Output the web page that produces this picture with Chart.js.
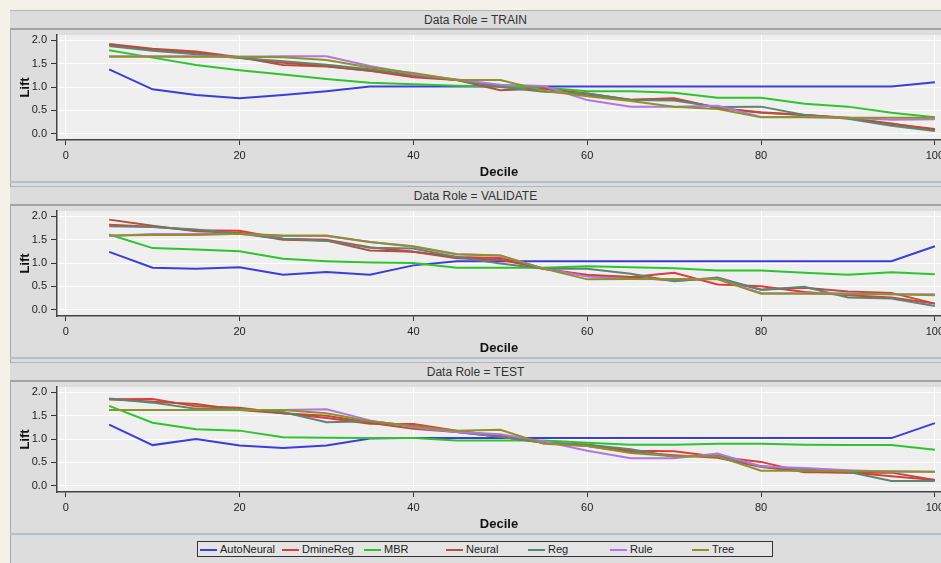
<!DOCTYPE html>
<html>
<head>
<meta charset="utf-8">
<script src="https://cdn.jsdelivr.net/npm/chart.js@4.4.1/dist/chart.umd.min.js"></script>
<style>
  html, body { margin: 0; padding: 0; }
  body { width: 941px; height: 563px; background: #f4f1e8; position: relative; overflow: hidden;
         font-family: "Liberation Sans", Arial, sans-serif; }
  #frame { position: absolute; left: 10px; top: 10px; width: 931px; height: 553px;
           background: #dddddd; border-left: 1px solid #9eacbc; border-top: 1px solid #9eacbc; box-sizing: border-box; }
  .head { position: absolute; left: 10px; width: 931px; height: 20px; box-sizing: border-box;
          border-top: 1px solid #b4b4b4; border-bottom: 2px solid #a4a4a4; background: #dcdcdc;
          font-size: 12px; color: #333; text-align: center; line-height: 18px; }
  .sep { position: absolute; left: 10px; width: 931px; height: 0; border-top: 2px solid #b6c0cc; }
  canvas { position: absolute; left: 10px; }
  #legend { position: absolute; left: 197px; top: 541px; width: 576px; height: 16px; box-sizing: border-box;
            border: 1px solid #333; background: #e4e4e4; font-size: 11px; color: #222; white-space: nowrap; }
  #legend .item { display: inline-block; width: 82px; line-height: 14px; vertical-align: top; }
  #legend .swatch { display: inline-block; width: 17px; height: 2px; margin: 0 3px 0 2px; vertical-align: middle; }
</style>
</head>
<body>
<div id="frame"></div>
<div id="panels"></div>
<div id="legend"></div>
<script>
const roles = ["TRAIN", "VALIDATE", "TEST"];
const models = ["AutoNeural", "DmineReg", "MBR", "Neural", "Reg", "Rule", "Tree"];
const modelColors = ["#3d3ddb", "#e23a3a", "#2ec42e", "#b4503c", "#5e8472", "#b275e2", "#8f9129"];
const deciles = [5, 10, 15, 20, 25, 30, 35, 40, 45, 50, 55, 60, 65, 70, 75, 80, 85, 90, 95, 100];
const xTicks = [0, 20, 40, 60, 80, 100];
const yTicks = [0, 0.5, 1.0, 1.5, 2.0];

// lift per model, rows in the order of `models`
const trainLift = [
  [1.38, 0.95, 0.83, 0.76, 0.83, 0.91, 1.01, 1.01, 1.01, 1.01, 1.01, 1.01, 1.01, 1.01, 1.01, 1.01, 1.01, 1.01, 1.01, 1.10],
  [1.90, 1.80, 1.73, 1.63, 1.52, 1.45, 1.35, 1.21, 1.15, 1.03, 0.97, 0.86, 0.73, 0.76, 0.55, 0.46, 0.40, 0.34, 0.21, 0.10],
  [1.79, 1.63, 1.47, 1.36, 1.27, 1.17, 1.09, 1.06, 1.03, 1.01, 0.99, 0.91, 0.91, 0.88, 0.77, 0.77, 0.64, 0.58, 0.45, 0.35],
  [1.92, 1.82, 1.76, 1.64, 1.47, 1.44, 1.35, 1.24, 1.15, 0.93, 0.97, 0.82, 0.72, 0.75, 0.55, 0.45, 0.40, 0.33, 0.22, 0.08],
  [1.88, 1.78, 1.70, 1.62, 1.55, 1.48, 1.38, 1.26, 1.15, 1.00, 0.90, 0.86, 0.72, 0.71, 0.57, 0.58, 0.40, 0.32, 0.17, 0.06],
  [1.66, 1.66, 1.66, 1.65, 1.66, 1.66, 1.45, 1.28, 1.16, 1.05, 1.02, 0.72, 0.58, 0.58, 0.60, 0.36, 0.36, 0.34, 0.30, 0.31],
  [1.65, 1.65, 1.65, 1.65, 1.64, 1.58, 1.42, 1.30, 1.15, 1.15, 0.92, 0.80, 0.70, 0.58, 0.53, 0.35, 0.35, 0.34, 0.34, 0.34]
];
const validateLift = [
  [1.24, 0.90, 0.88, 0.91, 0.75, 0.81, 0.75, 0.95, 1.04, 1.04, 1.04, 1.04, 1.04, 1.04, 1.04, 1.04, 1.04, 1.04, 1.04, 1.36],
  [1.82, 1.78, 1.70, 1.69, 1.52, 1.50, 1.34, 1.24, 1.13, 1.11, 0.87, 0.75, 0.70, 0.79, 0.54, 0.50, 0.38, 0.31, 0.26, 0.13],
  [1.61, 1.32, 1.29, 1.25, 1.09, 1.04, 1.01, 1.00, 0.90, 0.90, 0.90, 0.93, 0.91, 0.89, 0.84, 0.84, 0.79, 0.75, 0.80, 0.76],
  [1.93, 1.80, 1.68, 1.65, 1.50, 1.48, 1.27, 1.24, 1.10, 1.07, 0.88, 0.72, 0.70, 0.62, 0.67, 0.43, 0.47, 0.39, 0.36, 0.13],
  [1.79, 1.77, 1.72, 1.63, 1.52, 1.48, 1.33, 1.31, 1.13, 0.99, 0.88, 0.88, 0.77, 0.61, 0.69, 0.43, 0.49, 0.26, 0.24, 0.08],
  [1.58, 1.62, 1.62, 1.62, 1.58, 1.58, 1.45, 1.35, 1.19, 1.16, 0.88, 0.71, 0.66, 0.65, 0.66, 0.36, 0.35, 0.35, 0.33, 0.33],
  [1.59, 1.60, 1.60, 1.63, 1.59, 1.59, 1.45, 1.36, 1.19, 1.16, 0.88, 0.65, 0.66, 0.66, 0.65, 0.34, 0.34, 0.33, 0.33, 0.31]
];
const testLift = [
  [1.31, 0.87, 1.00, 0.86, 0.81, 0.86, 1.01, 1.02, 1.02, 1.02, 1.02, 1.02, 1.02, 1.02, 1.02, 1.02, 1.02, 1.02, 1.02, 1.34],
  [1.85, 1.86, 1.70, 1.67, 1.55, 1.45, 1.33, 1.32, 1.18, 1.07, 0.92, 0.88, 0.75, 0.74, 0.62, 0.51, 0.29, 0.29, 0.20, 0.12],
  [1.71, 1.35, 1.21, 1.18, 1.04, 1.03, 1.02, 1.02, 0.97, 0.97, 0.97, 0.92, 0.88, 0.88, 0.90, 0.90, 0.88, 0.87, 0.87, 0.77],
  [1.85, 1.80, 1.75, 1.62, 1.55, 1.50, 1.35, 1.22, 1.15, 1.05, 0.92, 0.85, 0.72, 0.65, 0.60, 0.40, 0.30, 0.28, 0.28, 0.12],
  [1.87, 1.78, 1.65, 1.65, 1.58, 1.36, 1.38, 1.28, 1.15, 1.05, 0.92, 0.88, 0.78, 0.62, 0.65, 0.42, 0.35, 0.30, 0.10, 0.10],
  [1.62, 1.62, 1.62, 1.62, 1.62, 1.64, 1.40, 1.25, 1.15, 1.10, 0.95, 0.75, 0.59, 0.59, 0.69, 0.41, 0.38, 0.33, 0.30, 0.30],
  [1.62, 1.62, 1.62, 1.62, 1.62, 1.55, 1.38, 1.28, 1.18, 1.20, 0.90, 0.85, 0.70, 0.63, 0.63, 0.32, 0.32, 0.31, 0.31, 0.30]
];
const liftByRole = [trainLift, validateLift, testLift];

// plot background behind the lines
const plotBg = {
  id: "plotBg",
  beforeDraw(chart) {
    const a = chart.chartArea, c = chart.ctx;
    c.save();
    c.fillStyle = "#efefef";
    c.fillRect(a.left, a.top, a.right - a.left, a.bottom - a.top);
    c.restore();
  }
};

const panels = document.getElementById("panels");
roles.forEach(function (role, r) {
  const top = 10 + 176 * r;

  const head = document.createElement("div");
  head.className = "head";
  head.style.top = top + "px";
  head.textContent = "Data Role = " + role;
  panels.appendChild(head);

  const cv = document.createElement("canvas");
  cv.width = 931;
  cv.height = 150;
  cv.style.top = (top + 22) + "px";
  panels.appendChild(cv);

  const sep = document.createElement("div");
  sep.className = "sep";
  sep.style.top = (top + 171) + "px";
  panels.appendChild(sep);

  const datasets = models.map(function (m, i) {
    return {
      label: m,
      data: deciles.map(function (d, k) { return { x: d, y: liftByRole[r][i][k] }; }),
      borderColor: modelColors[i],
      backgroundColor: modelColors[i],
      borderWidth: 2,
      pointRadius: 0,
      tension: 0,
      fill: false,
      order: models.length - i
    };
  });

  new Chart(cv, {
    type: "line",
    data: { datasets: datasets },
    plugins: [plotBg],
    options: {
      responsive: false,
      animation: false,
      layout: { padding: { top: 3, right: 0, bottom: 0, left: 0 } },
      plugins: { legend: { display: false }, tooltip: { enabled: false } },
      scales: {
        x: {
          type: "linear",
          min: -1,
          max: 100.7,
          afterBuildTicks: function (s) { s.ticks = xTicks.map(function (v) { return { value: v }; }); },
          afterFit: function (s) { s.height = 42; s.paddingLeft = 0; s.paddingRight = 0; },
          grid: { color: "#ffffff", lineWidth: 1, drawTicks: true, tickLength: 5, tickColor: "#333" },
          border: { display: true, color: "#444", width: 1.5 },
          ticks: { color: "#222", font: { family: "Liberation Sans", size: 11 }, padding: 4, maxRotation: 0 },
          title: { display: true, text: "Decile", color: "#111",
                   font: { family: "Liberation Sans", size: 13, weight: "bold" }, padding: { top: 0, bottom: 2 } }
        },
        y: {
          type: "linear",
          min: -0.135,
          max: 2.115,
          afterBuildTicks: function (s) { s.ticks = yTicks.map(function (v) { return { value: v }; }); },
          afterFit: function (s) { s.width = 47; s.paddingTop = 0; s.paddingBottom = 0; },
          grid: { color: "#ffffff", lineWidth: 1, drawTicks: true, tickLength: 6, tickColor: "#333" },
          border: { display: true, color: "#444", width: 1.5 },
          ticks: { color: "#222", font: { family: "Liberation Sans", size: 11 }, padding: 4,
                   callback: function (v) { return v.toFixed(1); } },
          title: { display: true, text: "Lift", color: "#111",
                   font: { family: "Liberation Sans", size: 13, weight: "bold" }, padding: { top: 8, bottom: 0 } }
        }
      }
    }
  });
});

// legend, one cell per model
const legend = document.getElementById("legend");
models.forEach(function (m, i) {
  const item = document.createElement("span");
  item.className = "item";
  const sw = document.createElement("span");
  sw.className = "swatch";
  sw.style.background = modelColors[i];
  item.appendChild(sw);
  item.appendChild(document.createTextNode(m));
  legend.appendChild(item);
});
</script>
</body>
</html>
